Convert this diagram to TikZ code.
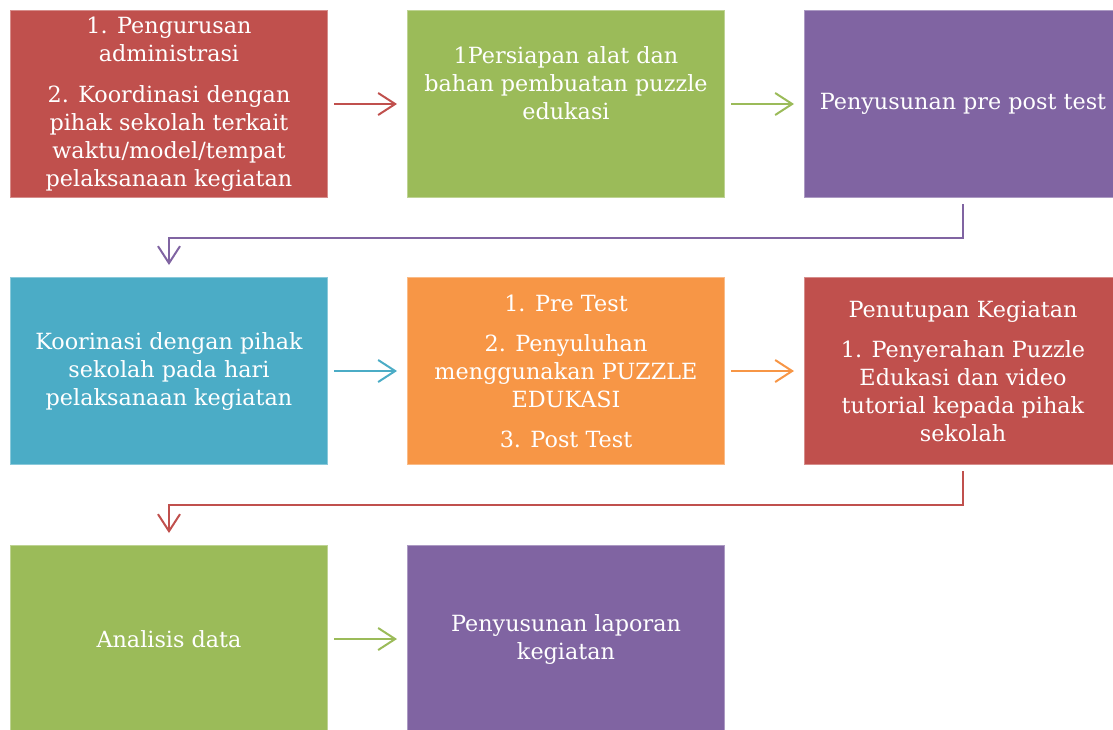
\documentclass[tikz,border=0pt]{standalone}
\usepackage{fontspec}
\setmainfont{DejaVu Serif}
\usetikzlibrary{arrows.meta}
\definecolor{boxred}{HTML}{C0504D}
\definecolor{boxgreen}{HTML}{9BBB59}
\definecolor{boxpurple}{HTML}{8064A2}
\definecolor{boxaqua}{HTML}{4BACC6}
\definecolor{boxorange}{HTML}{F79646}
\tikzset{
  stage/.style={fill=#1, draw=#1!65!white, line width=1pt, anchor=north west,
    minimum width=317pt, minimum height=187pt, inner sep=0pt, text=white,
    align=center, font=\fontsize{22.3}{28}\selectfont},
  flow/.style={draw=#1, line width=2pt, shorten <=6pt, shorten >=10pt,
    -{Straight Barb[length=17pt,width=22pt,line width=2pt]}}
}
\begin{document}
\begin{tikzpicture}[x=1pt,y=-1pt]
            \useasboundingbox (0,0) rectangle (1113,729);
            \clip (0,0) rectangle (1113,729);
            % first row
            \node[stage=boxred] (admin) at (10,10)
              {1. Pengurusan\\administrasi\\[13pt]2. Koordinasi dengan\\pihak sekolah terkait\\waktu/model/tempat\\pelaksanaan kegiatan};
            \node[stage=boxgreen] (alat) at (407,10)
              {1Persiapan alat dan\\bahan pembuatan puzzle\\edukasi\\[13pt]~};
            \node[stage=boxpurple] (prepost) at (804,10)
              {Penyusunan pre post test};
            % second row
            \node[stage=boxaqua] (koor) at (10,277)
              {Koorinasi dengan pihak\\sekolah pada hari\\pelaksanaan kegiatan};
            \node[stage=boxorange] (penyuluhan) at (407,277)
              {1. Pre Test\\[12pt]2. Penyuluhan\\menggunakan PUZZLE\\EDUKASI\\[12pt]3. Post Test};
            \node[stage=boxred] (penutupan) at (804,277)
              {Penutupan Kegiatan\\[12pt]1. Penyerahan Puzzle\\Edukasi dan video\\tutorial kepada pihak\\sekolah};
            % third row
            \node[stage=boxgreen] (analisis) at (10,545)
              {Analisis data};
            \node[stage=boxpurple] (laporan) at (407,545)
              {Penyusunan laporan\\kegiatan};
            % arrows
            \draw[flow=boxred] (admin) -- (alat);
            \draw[flow=boxgreen] (alat) -- (prepost);
            \draw[flow=boxpurple, shorten >=12pt] (prepost.south) -- ++(0,40) -| (koor.north);
            \draw[flow=boxaqua] (koor) -- (penyuluhan);
            \draw[flow=boxorange] (penyuluhan) -- (penutupan);
            \draw[flow=boxred, shorten >=12pt] (penutupan.south) -- ++(0,40) -| (analisis.north);
            \draw[flow=boxgreen] (analisis) -- (laporan);
          \end{tikzpicture}
\end{document}
